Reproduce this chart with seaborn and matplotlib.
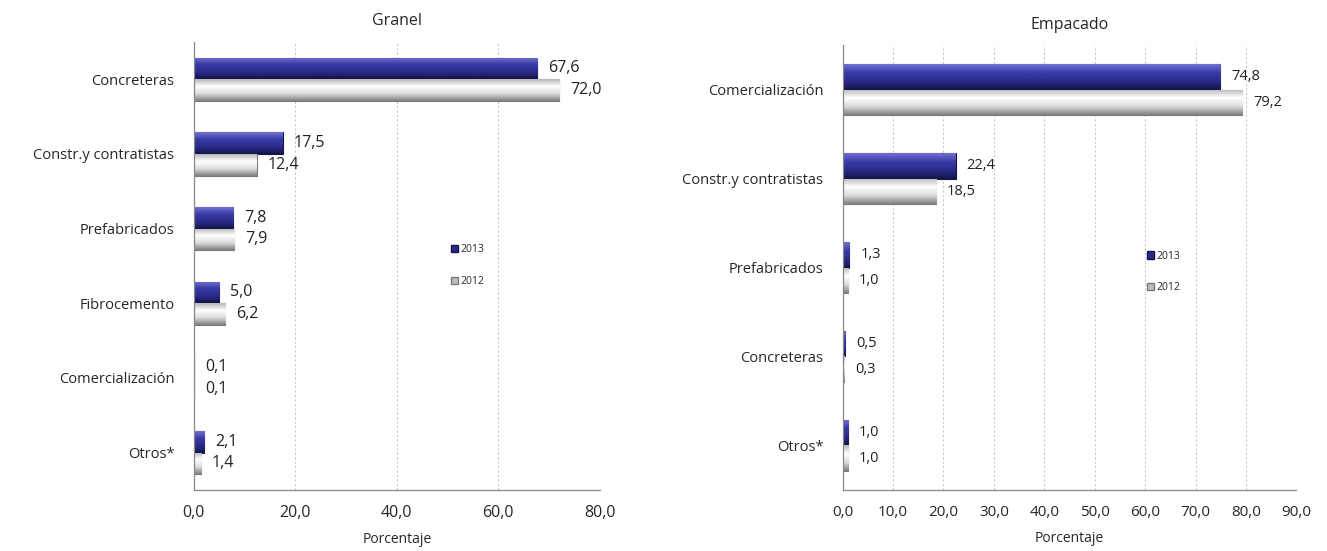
import numpy as np
import pandas as pd
import seaborn as sns
import matplotlib.pyplot as plt
from matplotlib.patches import Patch

# Datos
granel_cats = ["Concreteras", "Constr.y contratistas", "Prefabricados",
               "Fibrocemento", "Comercialización", "Otros*"]
granel_2013 = [67.6, 17.5, 7.8, 5.0, 0.1, 2.1]
granel_2012 = [72.0, 12.4, 7.9, 6.2, 0.1, 1.4]

empacado_cats = ["Comercialización", "Constr.y contratistas", "Prefabricados",
                 "Concreteras", "Otros*"]
empacado_2013 = [74.8, 22.4, 1.3, 0.5, 1.0]
empacado_2012 = [79.2, 18.5, 1.0, 0.3, 1.0]

years = ["2013", "2012"]

sns.set_style("white")
plt.rcParams["font.family"] = ["Open Sans", "DejaVu Sans"]

NAVY = ["#7070d4", "#3a3aa6", "#2a2a8a", "#14144a"]
GRAY = ["#b8b8b8", "#ffffff", "#dcdcdc", "#808080"]


def to_long(cats, v13, v12):
    return pd.DataFrame({
        "cat": cats * 2,
        "val": v13 + v12,
        "year": ["2013"] * len(cats) + ["2012"] * len(cats),
    })


def shade_bars(ax, container, stops):
    # degradado vertical recortado a cada barra
    cmap = plt.matplotlib.colors.LinearSegmentedColormap.from_list("g", stops)
    grad = np.linspace(0, 1, 64).reshape(-1, 1)
    xl, yl = ax.get_xlim(), ax.get_ylim()
    for p in container.patches:
        x, y, w, h = p.get_x(), p.get_y(), p.get_width(), p.get_height()
        if w <= 0:
            continue
        im = ax.imshow(grad, cmap=cmap, aspect="auto", origin="lower",
                       extent=(x, x + w, y, y + h), zorder=2, interpolation="bicubic")
        im.set_clip_path(p)
        p.set_facecolor("none")
    ax.set_xlim(xl)
    ax.set_ylim(yl)


def panel(ax, cats, v13, v12, xmax, step, title, lab_fs, tick_fs, leg_pos):
    df = to_long(cats, v13, v12)
    sns.barplot(data=df, y="cat", x="val", hue="year", hue_order=years,
                palette=["#2a2a8a", "#dddddd"], orient="h", width=0.58,
                ax=ax, zorder=2)
    ax.get_legend().remove()
    ax.set_xlim(0, xmax)
    ax.set_ylim(len(cats) - 0.5, -0.5)

    for cont, stops, edge in zip(ax.containers, [NAVY, GRAY], ["#14144a", "#7a7a7a"]):
        for p in cont.patches:
            p.set_edgecolor(edge)
            p.set_linewidth(0.8)
        shade_bars(ax, cont, stops)
        ax.bar_label(cont, labels=[f"{v:.1f}".replace(".", ",") for v in cont.datavalues],
                     padding=8, fontsize=lab_fs, color="#222222")

    ticks = np.arange(0, xmax + 0.1, step)
    ax.set_xticks(ticks)
    ax.set_xticklabels([f"{t:.1f}".replace(".", ",") for t in ticks], fontsize=tick_fs)
    ax.xaxis.grid(True, linestyle=(0, (2, 2)), color="#c8c8c8", linewidth=0.8)
    ax.set_axisbelow(True)
    ax.set_yticks(range(len(cats)))
    ax.set_yticklabels(cats, fontsize=10.5)
    ax.set_yticks(np.arange(-0.5, len(cats), 1), minor=True)
    ax.tick_params(axis="y", which="major", length=0, pad=14)
    ax.tick_params(axis="y", which="minor", length=5, color="#888888", direction="out")
    ax.tick_params(axis="x", length=5, color="#888888", direction="out", pad=6)
    for s in ["top", "right"]:
        ax.spines[s].set_visible(False)
    for s in ["left", "bottom"]:
        ax.spines[s].set_color("#888888")
        ax.spines[s].set_linewidth(0.9)
    ax.set_xlabel("Porcentaje", fontsize=10, labelpad=8)
    ax.set_ylabel("")
    ax.set_title(title, fontsize=11.5, pad=12)

    handles = [Patch(facecolor="#2a2a8a", edgecolor="#14144a"),
               Patch(facecolor="#bdbdbd", edgecolor="#7a7a7a")]
    ax.legend(handles, years, loc="center left", bbox_to_anchor=leg_pos,
              frameon=False, fontsize=7.5, handlelength=0.7, handleheight=0.7,
              handletextpad=0.2, labelspacing=2.0)


fig = plt.figure(figsize=(13.27, 5.51), dpi=100)
ax1 = fig.add_axes([0.146, 0.111, 0.306, 0.813])
ax2 = fig.add_axes([0.635, 0.111, 0.342, 0.807])

panel(ax1, granel_cats, granel_2013, granel_2012, 80, 20, "Granel", 11.5, 11.5, (0.61, 0.5))
panel(ax2, empacado_cats, empacado_2013, empacado_2012, 90, 10, "Empacado", 10.5, 11, (0.65, 0.49))

fig.savefig("out.png", dpi=100, facecolor="white")
